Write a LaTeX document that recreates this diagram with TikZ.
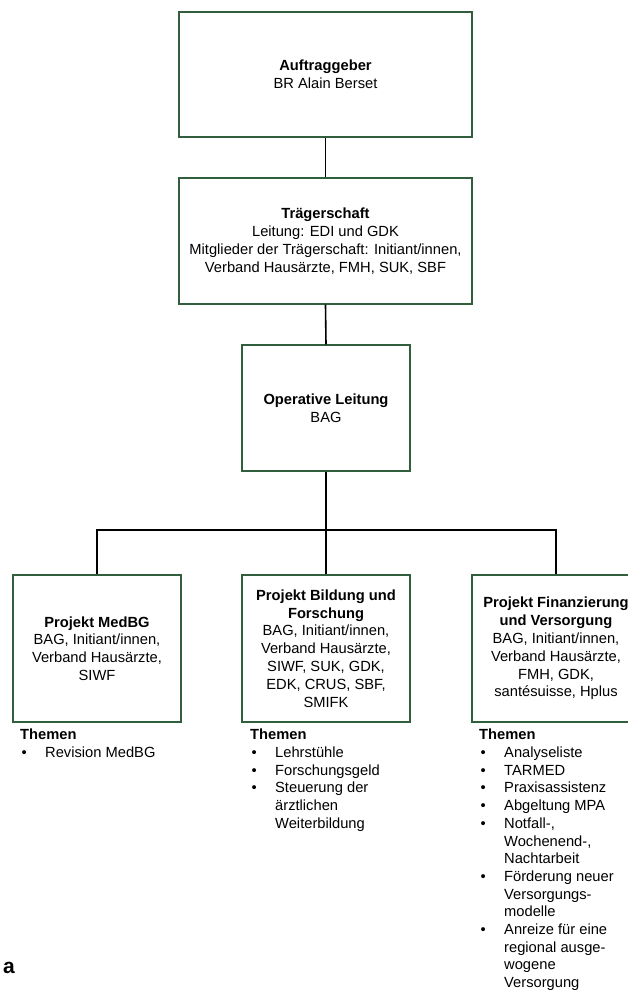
\documentclass[tikz,border=0pt]{standalone}
\usepackage{fontspec}
\setmainfont{Liberation Sans}
\definecolor{boxgreen}{RGB}{49,94,60}
\newcommand{\bitem}[1]{\makebox[25pt][l]{\hspace{1.5pt}\textbullet}#1}
\newcommand{\bcont}[1]{\hspace{25pt}#1}
\begin{document}
\begin{tikzpicture}[x=1pt,y=-1pt,
  orgbox/.style={draw=boxgreen, line width=1.4pt, rectangle, inner sep=0pt, align=center,
     font=\fontsize{14.7}{17.8}\selectfont},
  link/.style={draw=black, line width=1.6pt},
  themes/.style={anchor=north west, inner sep=0pt, align=left, font=\fontsize{14.7}{17.7}\selectfont}
]
\useasboundingbox (0,0) rectangle (628,991);
\node[orgbox, minimum width=293pt, minimum height=125pt] (auf) at (325.5,74.5) {};
\node[font=\fontsize{14.7}{17.8}\selectfont, align=center] (auft) at (auf.center) {\textbf{Auftraggeber}\\BR Alain Berset};
\node[orgbox, minimum width=293pt, minimum height=126pt] (trae) at (325.5,241) {};
\node[font=\fontsize{14.7}{17.8}\selectfont, align=center] (traet) at (trae.center) {\textbf{Trägerschaft}\\Leitung: EDI und GDK\\Mitglieder der Trägerschaft: Initiant/innen,\\Verband Hausärzte, FMH, SUK, SBF};
\node[orgbox, minimum width=168pt, minimum height=126pt] (op) at (326,408) {};
\node[font=\fontsize{14.7}{17.8}\selectfont, align=center] (opt) at (op.center) {\textbf{Operative Leitung}\\BAG};
\node[orgbox, minimum width=168pt, minimum height=147pt] (p1) at (97,648.5) {};
\node[font=\fontsize{14.7}{17.8}\selectfont, align=center] (p1t) at (p1.center) {\textbf{Projekt MedBG}\\BAG, Initiant/innen,\\Verband Hausärzte,\\SIWF};
\node[orgbox, minimum width=168pt, minimum height=147pt] (p2) at (326,648.5) {};
\node[font=\fontsize{14.7}{17.8}\selectfont, align=center] (p2t) at (p2.center) {\textbf{Projekt Bildung und}\\\textbf{Forschung}\\BAG, Initiant/innen,\\Verband Hausärzte,\\SIWF, SUK, GDK,\\EDK, CRUS, SBF,\\SMIFK};
\node[orgbox, minimum width=168pt, minimum height=147pt] (p3) at (556,648.5) {};
\node[font=\fontsize{14.7}{17.8}\selectfont, align=center] (p3t) at (p3.center) {\textbf{Projekt Finanzierung}\\\textbf{und Versorgung}\\BAG, Initiant/innen,\\Verband Hausärzte,\\FMH, GDK,\\santésuisse, Hplus};
\coordinate (jc) at (326,530);
\draw[link] (auf.south) -- (trae.north);
\draw[link] (trae.south) -- (op.north);
\draw[link] (op.south) -- (jc);
\draw[link] (jc) -- (p2.north);
\draw[link] (jc) -| (p1.north);
\draw[link] (jc) -| (p3.north);
\node[themes] (th1) at (20,729) {\textbf{Themen}\\\bitem{Revision MedBG}};
\node[themes] (th2) at (250,729) {\textbf{Themen}\\\bitem{Lehrstühle}\\\bitem{Forschungsgeld}\\\bitem{Steuerung der}\\\bcont{ärztlichen}\\\bcont{Weiterbildung}};
\node[themes] (th3) at (479,729) {\textbf{Themen}\\\bitem{Analyseliste}\\\bitem{TARMED}\\\bitem{Praxisassistenz}\\\bitem{Abgeltung MPA}\\\bitem{Notfall-,}\\\bcont{Wochenend-,}\\\bcont{Nachtarbeit}\\\bitem{Förderung neuer}\\\bcont{Versorgungs-}\\\bcont{modelle}\\\bitem{Anreize für eine}\\\bcont{regional ausge-}\\\bcont{wogene}\\\bcont{Versorgung}};
\node[anchor=base west, inner sep=0pt, font=\fontsize{21}{24}\selectfont\bfseries] (lbl) at (3,973) {a};
\end{tikzpicture}
\end{document}
